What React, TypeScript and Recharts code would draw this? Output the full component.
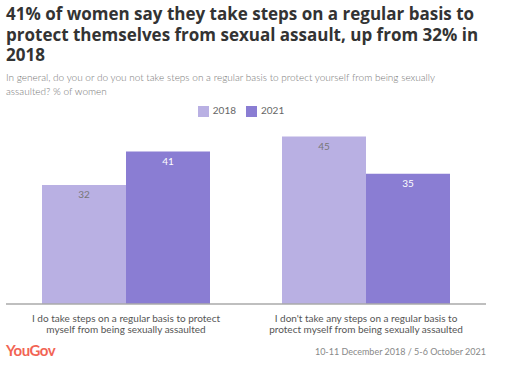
import { BarChart, Bar, XAxis, YAxis, Legend, LabelList } from "recharts";

const categories = [
  "I do take steps on a regular basis to protect myself from being sexually assaulted",
  "I don't take any steps on a regular basis to protect myself from being sexually assaulted",
];
const values2018 = [32, 45];
const values2021 = [41, 35];

const LIGHT = "#b9b0e3";
const DARK = "#8a7dd3";
const FONT = "Lato, 'Open Sans', sans-serif";

const chartData = categories.map((name, i) => ({
  name,
  y2018: values2018[i],
  y2021: values2021[i],
}));

// greedy word wrap by character count
function wrap(text: string, maxChars: number) {
  const lines: string[] = [];
  let cur = "";
  text.split(" ").forEach((w) => {
    const next = cur ? cur + " " + w : w;
    if (next.length > maxChars && cur) {
      lines.push(cur);
      cur = w;
    } else {
      cur = next;
    }
  });
  if (cur) lines.push(cur);
  return lines;
}

function CategoryTick(props: any) {
  const { x, y, payload } = props;
  const lines = wrap(String(payload.value), 46);
  return (
    <text
      x={x}
      y={y}
      textAnchor="middle"
      fill="#555"
      fontSize={10}
      fontFamily={FONT}
    >
      {lines.map((l, i) => (
        <tspan key={i} x={x} dy={i === 0 ? 10 : 11}>
          {l}
        </tspan>
      ))}
    </text>
  );
}

export default function App() {
  return (
    <div
      style={{
        position: "absolute",
        top: 0,
        left: 0,
        width: 506,
        height: 367,
        background: "#fff",
        fontFamily: FONT,
        overflow: "hidden",
      }}
    >
      <div
        style={{
          position: "absolute",
          left: 6,
          top: 4,
          width: 475,
          fontSize: 17,
          fontWeight: 700,
          lineHeight: "20.5px",
          color: "#333",
          fontFamily: "'Open Sans', sans-serif",
        }}
      >
        41% of women say they take steps on a regular basis to protect themselves from sexual assault, up from 32% in 2018
      </div>
      <div
        style={{
          position: "absolute",
          left: 6,
          top: 71,
          width: 470,
          fontSize: 10,
          lineHeight: "13.5px",
          color: "#777",
          fontWeight: 300,
        }}
      >
        In general, do you or do you not take steps on a regular basis to protect yourself from being sexually assaulted? % of women
      </div>

      <div style={{ position: "absolute", top: 0, left: 0 }}>
        <BarChart
          width={506}
          height={367}
          data={chartData}
          margin={{ top: 105, right: 20, bottom: 33, left: 6 }}
          barCategoryGap="15%"
          barGap={0}
        >
          <XAxis
            dataKey="name"
            tickLine={false}
            axisLine={{ stroke: "#aaa", strokeWidth: 1.5 }}
            tick={<CategoryTick />}
            interval={0}
            height={30}
          />
          <YAxis hide domain={[0, 50]} />
          <Legend
            verticalAlign="top"
            align="center"
            iconType="square"
            iconSize={11}
            wrapperStyle={{ top: 104, fontSize: 10, fontFamily: FONT }}
            formatter={(value: string) => <span style={{ color: "#666" }}>{value}</span>}
          />
          <Bar dataKey="y2018" name="2018" fill={LIGHT} isAnimationActive={false}>
            <LabelList
              dataKey="y2018"
              position="insideTop"
              offset={6}
              fill="#777"
              fontSize={10}
              fontFamily={FONT}
            />
          </Bar>
          <Bar dataKey="y2021" name="2021" fill={DARK} isAnimationActive={false}>
            <LabelList
              dataKey="y2021"
              position="insideTop"
              offset={6}
              fill="#fff"
              fontSize={10}
              fontFamily={FONT}
            />
          </Bar>
        </BarChart>
      </div>

      <div
        style={{
          position: "absolute",
          left: 6,
          top: 341,
          fontSize: 15,
          fontWeight: 700,
          color: "#f26454",
          letterSpacing: -0.5,
        }}
      >
        YouGov
      </div>
      <div
        style={{
          position: "absolute",
          right: 20,
          top: 346,
          fontSize: 9,
          color: "#888",
        }}
      >
        10-11 December 2018 / 5-6 October 2021
      </div>
    </div>
  );
}
